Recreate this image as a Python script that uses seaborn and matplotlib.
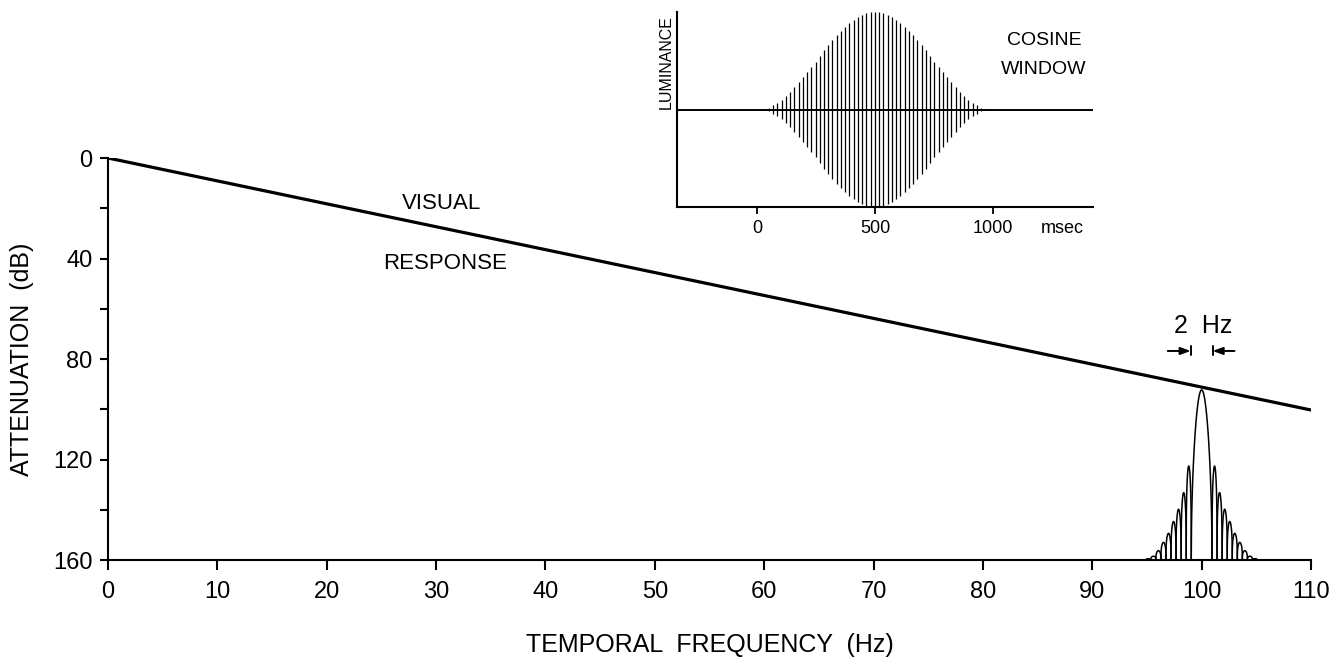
import numpy as np
import pandas as pd
import matplotlib
matplotlib.use("Agg")
import matplotlib.pyplot as plt
import seaborn as sns
from matplotlib.transforms import blended_transform_factory

# ---------------- data ----------------
freq_ticks = [0, 10, 20, 30, 40, 50, 60, 70, 80, 90, 100, 110]
atten_ticks = [0, 20, 40, 60, 80, 100, 120, 140, 160]
atten_tick_labels = ["0", "", "40", "", "80", "", "120", "", "160"]

visual_freq = [0, 110]
visual_atten = [0, 100.3]

center_freq = 100.0
main_lobe_peak = 92.3
main_lobe_halfwidth = 0.95
sidelobe_offsets = [1.18, 1.64, 2.11, 2.57, 3.03, 3.49, 3.95, 4.41, 4.87]
sidelobe_peaks = [122.6, 133.2, 139.8, 144.7, 149.4, 153.0, 156.3, 158.5, 159.5]
sidelobe_halfwidth = 0.23

window_times = [14, 32, 50, 68, 86, 104, 122, 140, 158, 176, 194, 212, 230, 248,
                266, 284, 302, 320, 338, 356, 374, 392, 410, 428, 446, 464, 482,
                500, 518, 536, 554, 572, 590, 608, 626, 644, 662, 680, 698, 716,
                734, 752, 770, 788, 806, 824, 842, 860, 878, 896, 914, 932, 950,
                968, 986]
window_amps = [0.01, 0.01, 0.02, 0.05, 0.07, 0.10, 0.14, 0.18, 0.23, 0.28, 0.33,
               0.38, 0.44, 0.49, 0.55, 0.61, 0.66, 0.71, 0.76, 0.81, 0.85, 0.89,
               0.92, 0.95, 0.97, 0.99, 1.00, 1.00, 1.00, 0.99, 0.97, 0.95, 0.92,
               0.89, 0.85, 0.81, 0.76, 0.71, 0.66, 0.61, 0.55, 0.49, 0.44, 0.38,
               0.33, 0.28, 0.23, 0.18, 0.14, 0.10, 0.07, 0.05, 0.02, 0.01, 0.01]
inset_ticks = [0, 500, 1000]

# ---------------- style ----------------
sns.set_style("ticks")
plt.rcParams["font.family"] = ["Liberation Sans", "DejaVu Sans"]
plt.rcParams["axes.linewidth"] = 1.5
plt.rcParams["axes.edgecolor"] = "black"
plt.rcParams["text.color"] = "black"
plt.rcParams["axes.labelcolor"] = "black"
plt.rcParams["xtick.color"] = "black"
plt.rcParams["ytick.color"] = "black"

fig = plt.figure(figsize=(13.42, 6.6), dpi=100)
ax = fig.add_axes([0.08048, 0.1515, 0.89642, 0.6091])

df_line = pd.DataFrame({"freq": visual_freq, "atten": visual_atten})
sns.lineplot(data=df_line, x="freq", y="atten", ax=ax, color="black", lw=2.3)

# spectrum lobes
def lobe(a, b, peak, p):
    t = np.linspace(0, 1, 80)
    x = a + (b - a) * t
    y = 160 - (160 - peak) * np.sin(np.pi * t) ** p
    ax.plot(x, y, color="black", lw=1.1)

lobe(center_freq - main_lobe_halfwidth, center_freq + main_lobe_halfwidth, main_lobe_peak, 0.5)
for off, pk in zip(sidelobe_offsets, sidelobe_peaks):
    for sgn in (-1, 1):
        c = center_freq + sgn * off
        lobe(c - sidelobe_halfwidth, c + sidelobe_halfwidth, pk, 0.3)

ax.set_xlim(0, 110)
ax.set_ylim(160, 0)
ax.set_xticks(freq_ticks)
ax.set_yticks(atten_ticks)
ax.set_yticklabels(atten_tick_labels)
ax.tick_params(axis="x", direction="out", length=7, width=1.5, labelsize=17, pad=8)
ax.tick_params(axis="y", direction="out", length=6, width=1.5, labelsize=17, pad=5)
sns.despine(ax=ax)
ax.set_xlabel("TEMPORAL  FREQUENCY  (Hz)", fontsize=18, labelpad=22)
ax.set_ylabel("ATTENUATION  (dB)", fontsize=18, labelpad=14)

ax.text(30.5, 18, "VISUAL", fontsize=16, ha="center", va="center")
ax.text(30.8, 42, "RESPONSE", fontsize=16, ha="center", va="center")

# 2 Hz marker
ax.text(100.1, 67, "2  Hz", fontsize=18, ha="center", va="center")
for tail, head in ((96.9, 99.0), (103.0, 101.0)):
    ax.annotate("", xy=(head, 76.8), xytext=(tail, 76.8),
                arrowprops=dict(arrowstyle="-|>,head_length=0.6,head_width=0.22",
                                color="black", lw=1.4, shrinkA=0, shrinkB=0))
    ax.plot([head, head], [75.0, 78.6], color="black", lw=1.4)

# ---------------- inset ----------------
ax_in = fig.add_axes([0.50447, 0.68636, 0.30999, 0.29545])
ax_in.vlines(window_times, [-a for a in window_amps], window_amps, color="black", lw=0.9)
ax_in.axhline(0, color="black", lw=1.4)
ax_in.set_xlim(-339, 1424)
ax_in.set_ylim(-1, 1)
ax_in.set_xticks(inset_ticks)
ax_in.set_yticks([])
ax_in.tick_params(axis="x", direction="out", length=5, width=1.3, labelsize=13, pad=4)
sns.despine(ax=ax_in)
ax_in.text(-0.026, 0.744, "LUMINANCE", transform=ax_in.transAxes, rotation=90,
           fontsize=11.5, ha="center", va="center")
ax_in.text(1216, 0.71, "COSINE", fontsize=14, ha="center", va="center")
ax_in.text(1216, 0.41, "WINDOW", fontsize=14, ha="center", va="center")
tr = blended_transform_factory(ax_in.transData, ax_in.transAxes)
ax_in.text(1292, -0.108, "msec", transform=tr, fontsize=13, ha="center", va="center")

fig.savefig("out.png", dpi=100)
